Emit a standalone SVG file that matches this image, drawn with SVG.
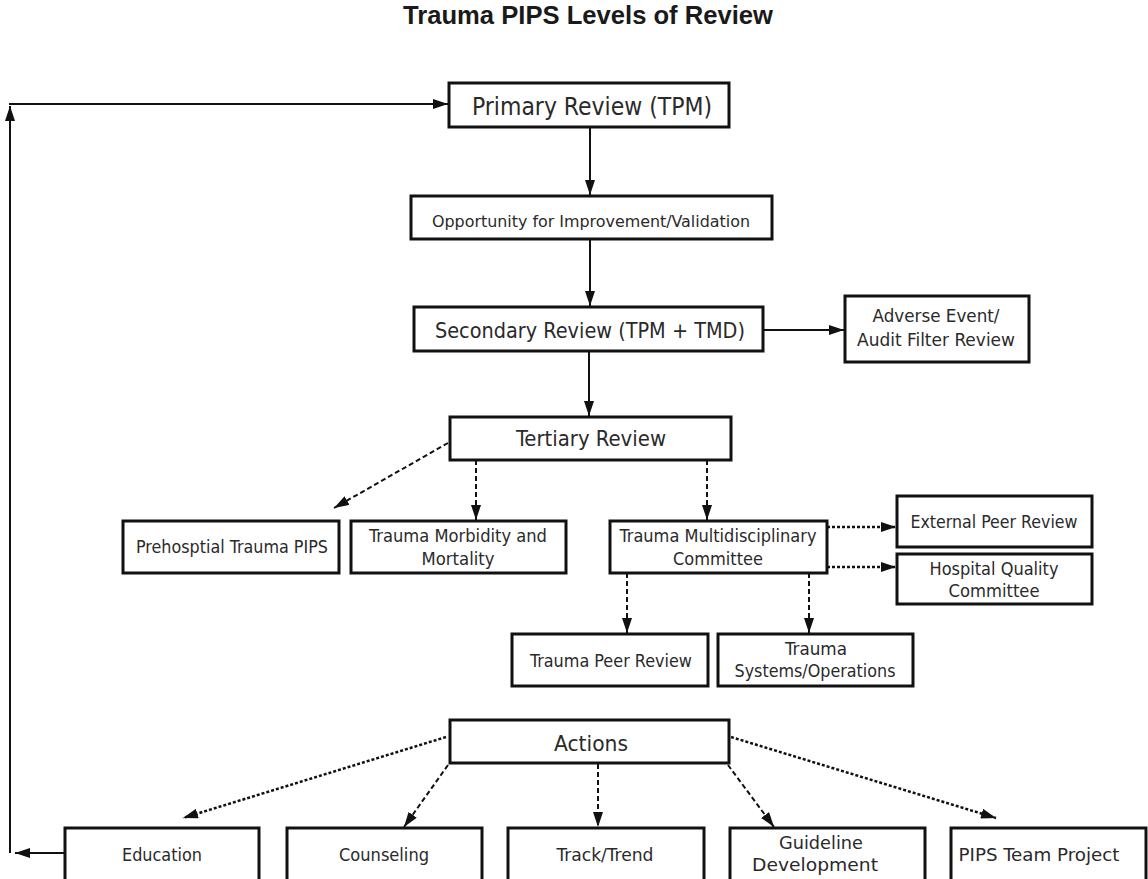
<svg xmlns="http://www.w3.org/2000/svg" width="1148" height="879" viewBox="0 0 1148 879">
<defs>
<marker id="ah" viewBox="0 0 15 10" refX="15" refY="5" markerWidth="15" markerHeight="10" markerUnits="userSpaceOnUse" orient="auto">
<path d="M0,0 L15,5 L0,10 Z" fill="#111"/>
</marker>
</defs>
<style>
rect{fill:#fff;stroke:#111;stroke-width:3}
text{font-family:"DejaVu Sans Condensed","Liberation Sans",sans-serif;fill:#2a2a2a;text-anchor:middle;font-size:17px}
.m{font-size:23px}
.ttl{font-family:"Liberation Sans","DejaVu Sans",sans-serif;font-weight:bold;font-size:26px;fill:#1a1a1a}
.c line{stroke:#111;stroke-width:2;fill:none}
.c .d{stroke-dasharray:5,3}
.c .dot{stroke-dasharray:3,2;stroke-width:2.5}
</style>
<text class="ttl" x="588" y="24" textLength="370" lengthAdjust="spacingAndGlyphs">Trauma PIPS Levels of Review</text>
<g class="c" id="connectors">
<line x1="65" y1="853" x2="15" y2="853" marker-end="url(#ah)"/>
<line x1="10" y1="853" x2="10" y2="106" marker-end="url(#ah)"/>
<line x1="9" y1="104" x2="448" y2="104" marker-end="url(#ah)"/>
<line x1="590" y1="127" x2="590" y2="195" marker-end="url(#ah)"/>
<line x1="590" y1="239" x2="590" y2="306" marker-end="url(#ah)"/>
<line x1="763" y1="330" x2="844" y2="330" marker-end="url(#ah)"/>
<line x1="589" y1="351" x2="589" y2="416" marker-end="url(#ah)"/>
<line class="d" x1="448" y1="443" x2="334" y2="508" marker-end="url(#ah)"/>
<line class="d" x1="476" y1="460" x2="476" y2="520" marker-end="url(#ah)"/>
<line class="d" x1="707" y1="460" x2="707" y2="520" marker-end="url(#ah)"/>
<line class="dot" x1="827" y1="527" x2="896" y2="527" marker-end="url(#ah)"/>
<line class="dot" x1="827" y1="567" x2="896" y2="567" marker-end="url(#ah)"/>
<line class="d" x1="627" y1="573" x2="627" y2="633" marker-end="url(#ah)"/>
<line class="d" x1="809" y1="573" x2="809" y2="633" marker-end="url(#ah)"/>
<line class="dot" x1="446" y1="737" x2="183" y2="818" marker-end="url(#ah)"/>
<line class="d" x1="448" y1="765" x2="404" y2="827" marker-end="url(#ah)"/>
<line class="d" x1="598" y1="764" x2="598" y2="827" marker-end="url(#ah)"/>
<line class="d" x1="728" y1="765" x2="774" y2="827" marker-end="url(#ah)"/>
<line class="dot" x1="731" y1="737" x2="996" y2="818" marker-end="url(#ah)"/>
</g>
<g id="primary"><rect x="449" y="83" width="280" height="44"/><text x="592" y="115" style="font-size:24px" textLength="240" lengthAdjust="spacingAndGlyphs">Primary Review (TPM)</text></g>
<g id="opportunity"><rect x="411" y="196" width="361" height="43"/><text x="591" y="227" style="font-size:16px" textLength="318" lengthAdjust="spacingAndGlyphs">Opportunity for Improvement/Validation</text></g>
<g id="secondary"><rect x="414" y="307" width="349" height="44"/><text class="m" x="590" y="338" style="font-size:22px" textLength="310" lengthAdjust="spacingAndGlyphs">Secondary Review (TPM + TMD)</text></g>
<g id="adverse"><rect x="845" y="296" width="184" height="66"/><text x="936" y="322" textLength="127" lengthAdjust="spacingAndGlyphs">Adverse Event/</text><text x="936" y="346" textLength="158" lengthAdjust="spacingAndGlyphs">Audit Filter Review</text></g>
<g id="tertiary"><rect x="450" y="417" width="281" height="43"/><text class="m" x="591" y="446" style="font-size:22px" textLength="150" lengthAdjust="spacingAndGlyphs">Tertiary Review</text></g>
<g id="prehospital"><rect x="123" y="521" width="216" height="52"/><text x="232" y="553" textLength="192" lengthAdjust="spacingAndGlyphs">Prehosptial Trauma PIPS</text></g>
<g id="morbidity"><rect x="351" y="521" width="215" height="52"/><text x="458" y="542" textLength="178" lengthAdjust="spacingAndGlyphs">Trauma Morbidity and</text><text x="458" y="565" textLength="73" lengthAdjust="spacingAndGlyphs">Mortality</text></g>
<g id="multidisciplinary"><rect x="610" y="521" width="217" height="52"/><text x="718" y="542" textLength="197" lengthAdjust="spacingAndGlyphs">Trauma Multidisciplinary</text><text x="718" y="565" textLength="90" lengthAdjust="spacingAndGlyphs">Committee</text></g>
<g id="external"><rect x="897" y="496" width="195" height="51"/><text x="994" y="528" textLength="167" lengthAdjust="spacingAndGlyphs">External Peer Review</text></g>
<g id="hospital"><rect x="897" y="554" width="195" height="50"/><text x="994" y="575" textLength="129" lengthAdjust="spacingAndGlyphs">Hospital Quality</text><text x="994" y="597" textLength="91" lengthAdjust="spacingAndGlyphs">Committee</text></g>
<g id="peer"><rect x="512" y="634" width="196" height="52"/><text x="611" y="667" textLength="162" lengthAdjust="spacingAndGlyphs">Trauma Peer Review</text></g>
<g id="systems"><rect x="718" y="634" width="195" height="52"/><text x="816" y="655" textLength="62" lengthAdjust="spacingAndGlyphs">Trauma</text><text x="815" y="677" textLength="161" lengthAdjust="spacingAndGlyphs">Systems/Operations</text></g>
<g id="actions"><rect x="450" y="720" width="279" height="43"/><text class="m" x="591" y="751" style="font-size:22px" textLength="74" lengthAdjust="spacingAndGlyphs">Actions</text></g>
<g id="education"><rect x="65" y="828" width="194" height="54"/><text x="162" y="861" textLength="80" lengthAdjust="spacingAndGlyphs">Education</text></g>
<g id="counseling"><rect x="287" y="828" width="195" height="54"/><text x="384" y="861" textLength="90" lengthAdjust="spacingAndGlyphs">Counseling</text></g>
<g id="track"><rect x="508" y="828" width="196" height="54"/><text x="605" y="861" textLength="97" lengthAdjust="spacingAndGlyphs">Track/Trend</text></g>
<g id="guideline"><rect x="730" y="828" width="195" height="54"/><text x="821" y="849" textLength="84" lengthAdjust="spacingAndGlyphs">Guideline</text><text x="815" y="871" textLength="126" lengthAdjust="spacingAndGlyphs">Development</text></g>
<g id="pips"><rect x="951" y="828" width="195" height="54"/><text x="1039" y="861" textLength="161" lengthAdjust="spacingAndGlyphs">PIPS Team Project</text></g>
</svg>
